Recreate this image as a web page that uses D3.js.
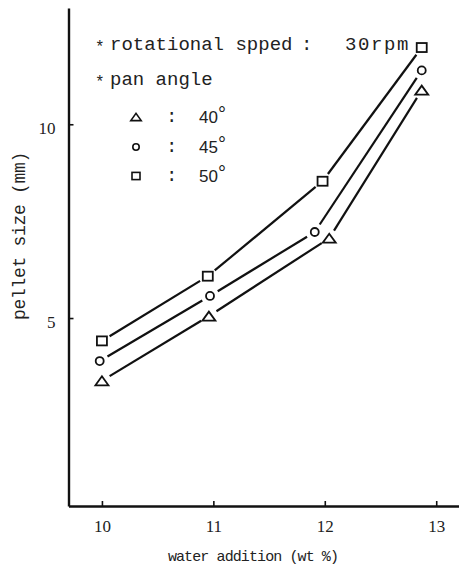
<!DOCTYPE html>
<html>
<head>
<meta charset="utf-8">
<script src="https://cdn.jsdelivr.net/npm/d3@7"></script>
<style>
  body { margin: 0; background: #fff; }
  svg { display: block; }
  .axis path, .axis line { stroke: #111; }
  .axis text { font-family: "Liberation Serif", serif; font-size: 17px; fill: #222; }
  .mono { font-family: "Liberation Mono", monospace; fill: #222; }
</style>
</head>
<body>
<div id="chart"></div>
<script>
'use strict'

// axis ticks
const xTicks = [10, 11, 12, 13];
const yTicks = [5, 10];

// pan angle 40 (triangles)
const angle40X = [10.0, 10.96, 12.04, 12.87];
const angle40Y = [3.38, 5.05, 7.06, 10.88];
// pan angle 45 (circles)
const angle45X = [9.98, 10.97, 11.91, 12.87];
const angle45Y = [3.89, 5.57, 7.22, 11.39];
// pan angle 50 (squares)
const angle50X = [10.0, 10.95, 11.98, 12.87];
const angle50Y = [4.41, 6.08, 8.53, 11.98];

const legendAngles = ['40', '45', '50'];
const legendShapes = ['triangle', 'circle', 'square'];

let width = 459,
    height = 568;

let svg = d3.select('#chart')
  .append('svg')
  .attr('width', width)
  .attr('height', height);

let x = d3.scaleLinear().domain([9.7, 13.2]).range([68.5, 458.5]),
    y = d3.scaleLinear().domain([0.15, 13]).range([506, 8]);

let xAxis = d3.axisBottom(x).tickValues(xTicks).tickFormat(d3.format('d'))
      .tickSize(-5).tickSizeOuter(0).tickPadding(14),
    yAxis = d3.axisLeft(y).tickValues(yTicks).tickFormat(d3.format('d'))
      .tickSize(-5).tickSizeOuter(0).tickPadding(13);

let gx = svg.append('g')
  .attr('class', 'axis axis--x')
  .attr('transform', 'translate(0,' + y.range()[0] + ')')
  .call(xAxis);

let gy = svg.append('g')
  .attr('class', 'axis axis--y')
  .attr('transform', 'translate(' + x.range()[0] + ',0)')
  .call(yAxis);

gx.select('.domain').attr('stroke-width', 2.6);
gy.select('.domain').attr('stroke-width', 2.4);
gx.selectAll('.tick line').attr('stroke-width', 1.6);
gy.selectAll('.tick line').attr('stroke-width', 1.6);
gy.selectAll('.tick text').attr('dy', '0.55em');

// axis titles
svg.append('text')
  .attr('class', 'mono')
  .attr('x', 253)
  .attr('y', 561)
  .attr('text-anchor', 'middle')
  .attr('font-size', 15)
  .attr('letter-spacing', -0.9)
  .text('water addition (wt %)');

svg.append('text')
  .attr('class', 'mono')
  .attr('transform', 'translate(25,236) rotate(-90)')
  .attr('text-anchor', 'middle')
  .attr('font-size', 18)
  .attr('letter-spacing', -0.3)
  .text('pellet size (mm)');

// series
let series = [
  {shape: 'triangle', xs: angle40X, ys: angle40Y},
  {shape: 'circle', xs: angle45X, ys: angle45Y},
  {shape: 'square', xs: angle50X, ys: angle50Y}
];

function marker(g, shape, cx, cy, s) {
  if (shape === 'triangle') {
    g.append('path')
      .attr('d', 'M' + (cx - 6.5 * s) + ',' + (cy + 4.5 * s) + 'L' + (cx + 6.5 * s) + ',' + (cy + 4.5 * s) + 'L' + cx + ',' + (cy - 4.5 * s) + 'Z');
  } else if (shape === 'circle') {
    g.append('circle').attr('cx', cx).attr('cy', cy).attr('r', 4 * s);
  } else {
    g.append('rect')
      .attr('x', cx - 5 * s).attr('y', cy - 4.5 * s)
      .attr('width', 10 * s).attr('height', 9 * s);
  }
}

let gap = 9;
let plot = svg.append('g')
  .attr('fill', 'none')
  .attr('stroke', '#111');

series.forEach(function(s) {
  let pts = s.xs.map(function(v, i) { return [x(v), y(s.ys[i])]; });
  // lines stop short of the markers
  d3.pairs(pts).forEach(function(p) {
    let dx = p[1][0] - p[0][0],
        dy = p[1][1] - p[0][1],
        len = Math.sqrt(dx * dx + dy * dy),
        ux = dx / len, uy = dy / len;
    plot.append('line')
      .attr('x1', p[0][0] + ux * gap).attr('y1', p[0][1] + uy * gap)
      .attr('x2', p[1][0] - ux * gap).attr('y2', p[1][1] - uy * gap)
      .attr('stroke-width', 2.2);
  });
  let gm = plot.append('g').attr('stroke-width', 1.8);
  pts.forEach(function(p) { marker(gm, s.shape, p[0], p[1], 1); });
});

// legend
let legend = svg.append('g');

legend.append('text').attr('class', 'mono').attr('x', 95).attr('y', 52).attr('font-size', 16).text('*');
legend.append('text').attr('class', 'mono').attr('x', 110).attr('y', 50).attr('font-size', 19).text('rotational spped');
legend.append('text').attr('class', 'mono').attr('x', 301).attr('y', 50).attr('font-size', 19).text(':');
legend.append('text').attr('class', 'mono').attr('x', 345).attr('y', 50).attr('font-size', 19).attr('letter-spacing', 1.6).text('30rpm');

legend.append('text').attr('class', 'mono').attr('x', 95).attr('y', 87).attr('font-size', 16).text('*');
legend.append('text').attr('class', 'mono').attr('x', 110).attr('y', 85).attr('font-size', 19).text('pan angle');

let rowY = [117, 147, 176];
let lg = legend.append('g').attr('fill', 'none').attr('stroke', '#111').attr('stroke-width', 1.6);
legendAngles.forEach(function(a, i) {
  marker(lg, legendShapes[i], 136, rowY[i], 0.8);
  legend.append('text').attr('class', 'mono').attr('x', 166).attr('y', rowY[i] + 5).attr('font-size', 19).text(':');
  let t = legend.append('text')
    .attr('x', 199).attr('y', rowY[i] + 6)
    .attr('font-family', '"Liberation Sans", sans-serif')
    .attr('font-size', 17)
    .attr('fill', '#222')
    .text(a);
  t.append('tspan').attr('dy', -2).attr('font-size', 20).text('°');
});
</script>
</body>
</html>
